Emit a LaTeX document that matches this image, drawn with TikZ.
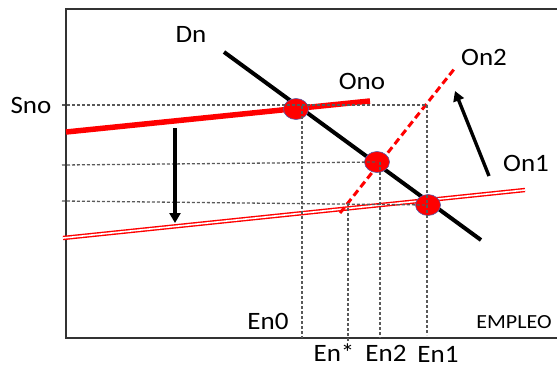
\documentclass[tikz,border=0pt]{standalone}
\usepackage{fontspec}
\setmainfont{Carlito}
\usetikzlibrary{arrows.meta,shapes.geometric}
\tikzset{
	lbl/.style={font=\fontsize{25}{27}\selectfont, inner sep=0pt, xscale=1.08},
	guide/.style={densely dashed, color=black!65, line width=1.3pt},
	eqpt/.style={ellipse, fill=red, draw=blue!30!gray, line width=0.6pt,
		minimum width=25pt, minimum height=21pt, inner sep=0pt},
	movearrow/.style={-{Triangle[length=10pt,width=11pt]}, line width=3.4pt}
}
\begin{document}
\begin{tikzpicture}[x=1pt, y=-1pt]
	\useasboundingbox[fill=white] (0,0) rectangle (557,368);
	% frame
	\draw[line width=1.3pt, color=black!80] (557,9) -- (66,9) -- (66,338) -- (557,338);
	% demand
	\coordinate (dn1) at (224,52);
	\coordinate (dn2) at (481,240);
	\draw[line width=4pt] (dn1) -- (dn2);
	\node[lbl] (dnlab) at (191,34) {Dn};
	% supply curves
	\coordinate (ono1) at (66,132);
	\coordinate (ono2) at (370,101);
	\draw[red, line width=5.5pt] (ono1) -- (ono2);
	\node[lbl] (onolab) at (362,81) {Ono};
	\coordinate (on11) at (63,238);
	\coordinate (on12) at (525,190);
	\draw[red, double=white, double distance=1.6pt, line width=1.4pt] (on11) -- (on12);
	\node[lbl] (on1lab) at (526,163) {On1};
	\coordinate (on21) at (340,213);
	\coordinate (on22) at (455,68);
	\draw[red, dashed, dash pattern=on 7pt off 4pt, line width=3pt] (on21) -- (on22);
	\node[lbl] (on2lab) at (484,57) {On2};
	% equilibria
	\node[eqpt] (e0) at (296,109) {};
	\node[eqpt] (e2) at (377,162) {};
	\node[eqpt] (e1) at (428,205) {};
	% guide lines
	\coordinate (sno) at (62,105);
	\coordinate (top1) at (427,105);
	\coordinate (mid) at (62,165);
	\coordinate (low) at (62,201);
	\draw[guide] (sno) -- (top1);
	\draw[guide] (mid) -- (e2.center);
	\draw[guide] (low) -- (e1.center);
	\coordinate (ax0) at (302,338);
	\coordinate (axs) at (348,342);
	\coordinate (ax2) at (380,338);
	\coordinate (ax1) at (427,335);
	\draw[guide] (302,106) -- (ax0);
	\draw[guide] (348,203) -- (axs);
	\draw[guide] (380,162) -- (ax2);
	\draw[guide] (top1) -- (ax1);
	\node[lbl] (snolab) at (31,105) {Sno};
	% axis labels
	\node[lbl] (en0) at (268,321) {En0};
	\node[lbl] (ens) at (334,353) {En*};
	\node[lbl] (en2) at (386,353) {En2};
	\node[lbl] (en1) at (438,354) {En1};
	\node[font=\fontsize{20}{22}\selectfont, inner sep=0pt, xscale=1.1] (empleo) at (514,322) {EMPLEO};
	% shifts
	\coordinate (d1) at (175,128);
	\coordinate (d2) at (175,223);
	\draw[movearrow] (d1) -- (d2);
	\coordinate (u1) at (489,176);
	\coordinate (u2) at (455,91);
	\draw[movearrow] (u1) -- (u2);
\end{tikzpicture}
\end{document}
